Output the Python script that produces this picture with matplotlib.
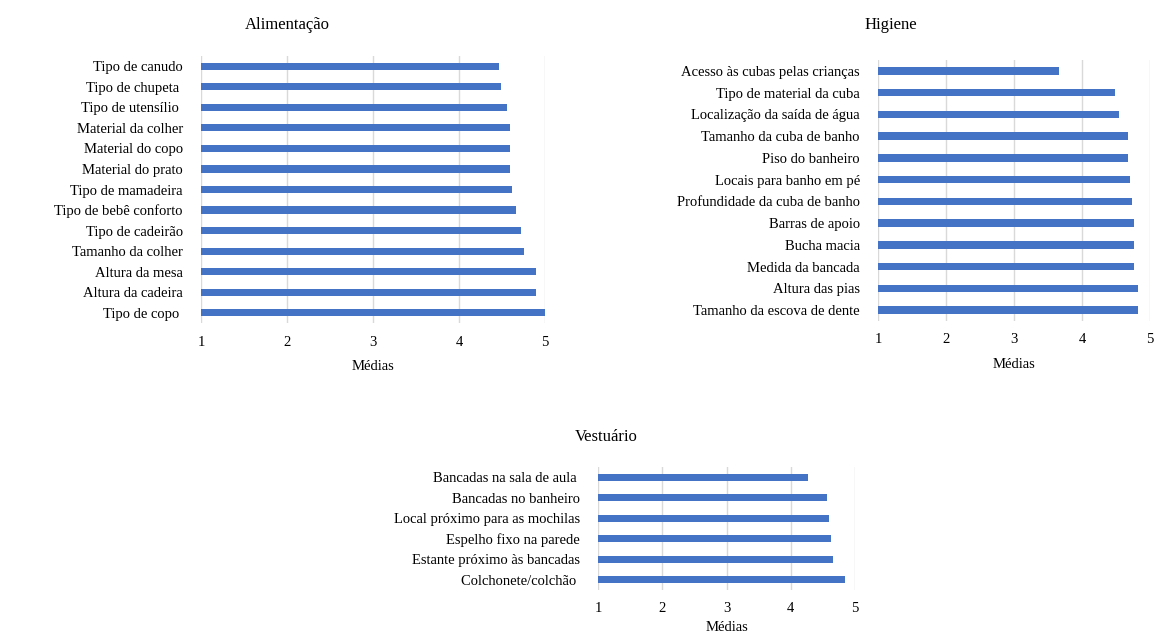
import matplotlib.pyplot as plt

plt.rcParams['font.family'] = ['Liberation Serif', 'DejaVu Serif']

# Means per item, listed top to bottom
alim_labels = ['Tipo de canudo', 'Tipo de chupeta ', 'Tipo de utensílio ', 'Material da colher',
               'Material do copo', 'Material do prato', 'Tipo de mamadeira', 'Tipo de bebê conforto',
               'Tipo de cadeirão', 'Tamanho da colher', 'Altura da mesa', 'Altura da cadeira',
               'Tipo de copo ']
alim_values = [4.46, 4.49, 4.56, 4.59, 4.59, 4.59, 4.62, 4.66, 4.72, 4.76, 4.89, 4.89, 5.0]

hig_labels = ['Acesso às cubas pelas crianças', 'Tipo de material da cuba', 'Localização da saída de água',
              'Tamanho da cuba de banho', 'Piso do banheiro', 'Locais para banho em pé',
              'Profundidade da cuba de banho', 'Barras de apoio', 'Bucha macia', 'Medida da bancada',
              'Altura das pias', 'Tamanho da escova de dente']
hig_values = [3.66, 4.48, 4.55, 4.67, 4.67, 4.70, 4.74, 4.77, 4.77, 4.77, 4.83, 4.83]

vest_labels = ['Bancadas na sala de aula ', 'Bancadas no banheiro', 'Local próximo para as mochilas',
               'Espelho fixo na parede', 'Estante próximo às bancadas', 'Colchonete/colchão ']
vest_values = [4.27, 4.56, 4.59, 4.62, 4.65, 4.85]

ticks = [1, 2, 3, 4, 5]
bar_color = '#4472C4'

fig = plt.figure(figsize=(11.54, 6.35), dpi=100)


def draw_panel(rect, labels, values, xpad=8):
    ax = fig.add_axes(rect)
    ax.barh(range(len(values)), [v - 1 for v in values], left=1, height=0.35, color=bar_color, zorder=3)
    ax.set_xlim(1, 5)
    ax.set_ylim(len(values) - 0.5, -0.5)
    ax.set_xticks(ticks)
    ax.set_yticks(range(len(labels)))
    ax.set_yticklabels(labels)
    ax.tick_params(axis='both', length=0, labelsize=10.5)
    ax.tick_params(axis='y', pad=13)
    ax.tick_params(axis='x', pad=9)
    ax.grid(axis='x', color='#d9d9d9', linewidth=1, zorder=0)
    for s in ax.spines.values():
        s.set_visible(False)
    ax.set_xlabel('Médias', fontsize=10.5, labelpad=xpad)
    return ax


draw_panel([0.1742, 0.4913, 0.2981, 0.4205], alim_labels, alim_values)
draw_panel([0.7608, 0.4945, 0.2357, 0.4110], hig_labels, hig_values)
draw_panel([0.5182, 0.0709, 0.2227, 0.1937], vest_labels, vest_values, xpad=4)

fig.text(287 / 1154, 1 - 25 / 635, 'Alimentação', ha='center', va='center', fontsize=12)
fig.text(891 / 1154, 1 - 25 / 635, 'Higiene', ha='center', va='center', fontsize=12)
fig.text(606 / 1154, 1 - 437 / 635, 'Vestuário', ha='center', va='center', fontsize=12)

fig.savefig('out.png', dpi=100)
